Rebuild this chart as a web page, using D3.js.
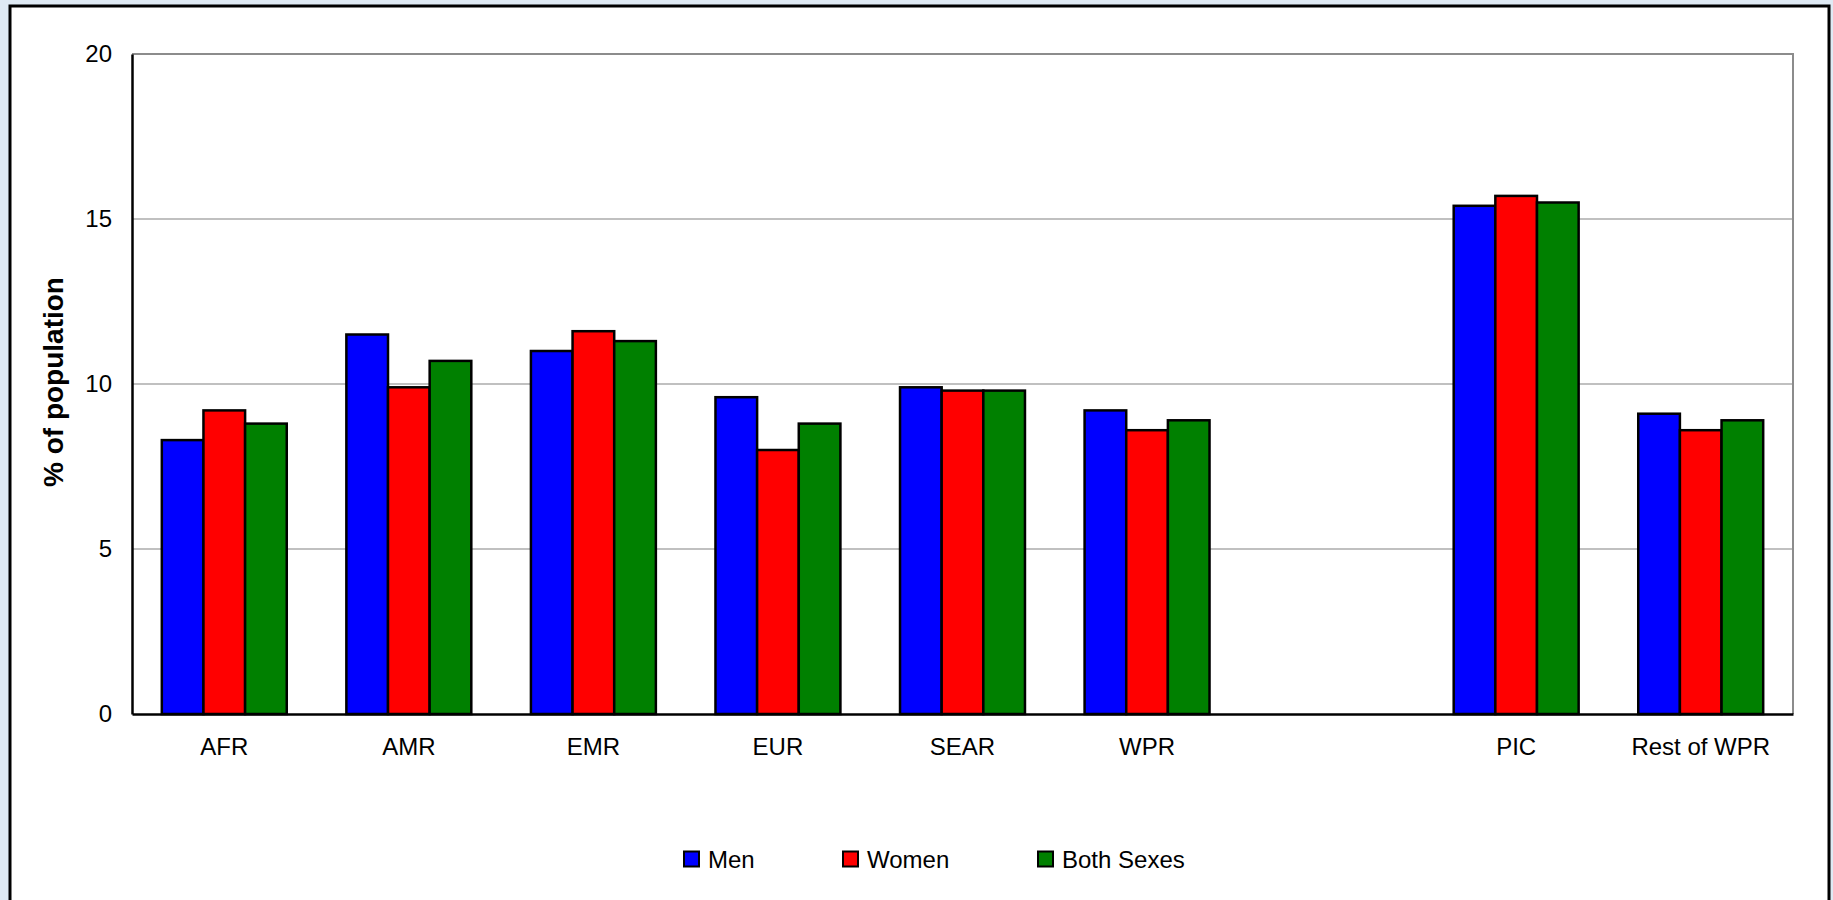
<!DOCTYPE html>
<html>
<head>
<meta charset="utf-8">
<script src="https://cdn.jsdelivr.net/npm/d3@7"></script>
<style>
  html, body { margin: 0; padding: 0; background: #dfeaf4; }
  svg { display: block; font-family: "Liberation Sans", Arial, sans-serif; }
</style>
</head>
<body>
<svg id="chart" width="1833" height="900"></svg>
<script>
// Regions (blank slot separates the WHO regions from the WPR breakdown)
const categories = ["AFR", "AMR", "EMR", "EUR", "SEAR", "WPR", "", "PIC", "Rest of WPR"];
const seriesNames = ["Men", "Women", "Both Sexes"];
const seriesColors = ["#0000ff", "#ff0000", "#008000"];
const men       = [8.3, 11.5, 11.0, 9.6, 9.9, 9.2, null, 15.4, 9.1];
const women     = [9.2,  9.9, 11.6, 8.0, 9.8, 8.6, null, 15.7, 8.6];
const bothSexes = [8.8, 10.7, 11.3, 8.8, 9.8, 8.9, null, 15.5, 8.9];
const yTicks = [0, 5, 10, 15, 20];

const seriesValues = [men, women, bothSexes];

const svg = d3.select("#chart");
const W = 1833, H = 900;

// outer frame
svg.append("rect")
  .attr("x", 10).attr("y", 6)
  .attr("width", 1819).attr("height", H + 10)
  .attr("fill", "#ffffff").attr("stroke", "#000").attr("stroke-width", 3);

const plot = { left: 132, top: 54, right: 1793, bottom: 714 };

const slotKeys = categories.map((c, i) => i);
const x0 = d3.scaleBand()
  .domain(slotKeys)
  .range([plot.left, plot.right])
  .paddingInner(0.323)
  .paddingOuter(0.1615);

const x1 = d3.scaleBand()
  .domain(seriesNames)
  .range([0, x0.bandwidth()]);

const y = d3.scaleLinear().domain([0, 20]).range([plot.bottom, plot.top]);

// gridlines
svg.append("g")
  .selectAll("line")
  .data(yTicks.filter(t => t > 0 && t < 20))
  .join("line")
  .attr("x1", plot.left).attr("x2", plot.right)
  .attr("y1", d => y(d)).attr("y2", d => y(d))
  .attr("stroke", "#c0c0c0").attr("stroke-width", 2);

// plot area border (top and right)
svg.append("path")
  .attr("d", `M${plot.left},${plot.top}H${plot.right}V${plot.bottom}`)
  .attr("fill", "none").attr("stroke", "#8c8c8c").attr("stroke-width", 2);

// bars
const groups = svg.append("g")
  .selectAll("g")
  .data(slotKeys)
  .join("g")
  .attr("transform", i => `translate(${x0(i)},0)`);

groups.selectAll("rect")
  .data(i => seriesNames.map((s, k) => ({ s, k, v: seriesValues[k][i] })).filter(d => d.v != null))
  .join("rect")
  .attr("x", d => x1(d.s))
  .attr("width", x1.bandwidth())
  .attr("y", d => y(d.v))
  .attr("height", d => y(0) - y(d.v))
  .attr("fill", d => seriesColors[d.k])
  .attr("stroke", "#000").attr("stroke-width", 2.5);

// y axis
const yAxis = svg.append("g")
  .attr("transform", `translate(${plot.left},0)`)
  .call(d3.axisLeft(y).tickValues(yTicks).tickSize(0).tickPadding(20));
yAxis.select(".domain").attr("stroke", "#000").attr("stroke-width", 2.5);
yAxis.selectAll("text").attr("font-size", 24).attr("fill", "#000")
  .attr("font-family", "Liberation Sans, Arial, sans-serif");

// x axis
const xAxis = svg.append("g")
  .attr("transform", `translate(0,${plot.bottom})`)
  .call(d3.axisBottom(x0).tickSize(0).tickPadding(24).tickFormat(i => categories[i]));
xAxis.select(".domain").attr("stroke", "#000").attr("stroke-width", 2.5);
xAxis.selectAll("text").attr("font-size", 24).attr("fill", "#000")
  .attr("font-family", "Liberation Sans, Arial, sans-serif");

// y axis title
svg.append("text")
  .attr("transform", `translate(53,${(plot.top + plot.bottom) / 2 - 2}) rotate(-90)`)
  .attr("text-anchor", "middle")
  .attr("dominant-baseline", "central")
  .attr("font-size", 28).attr("font-weight", "bold")
  .text("% of population");

// legend
const legendX = [684, 843, 1038];
const legend = svg.append("g")
  .selectAll("g")
  .data(seriesNames)
  .join("g")
  .attr("transform", (d, k) => `translate(${legendX[k]},859)`);
legend.append("rect")
  .attr("x", 0).attr("y", -7.5).attr("width", 15).attr("height", 15)
  .attr("fill", (d, k) => seriesColors[k])
  .attr("stroke", "#000").attr("stroke-width", 2);
legend.append("text")
  .attr("x", 24).attr("y", 0)
  .attr("dominant-baseline", "central")
  .attr("font-size", 24)
  .text(d => d);
</script>
</body>
</html>
